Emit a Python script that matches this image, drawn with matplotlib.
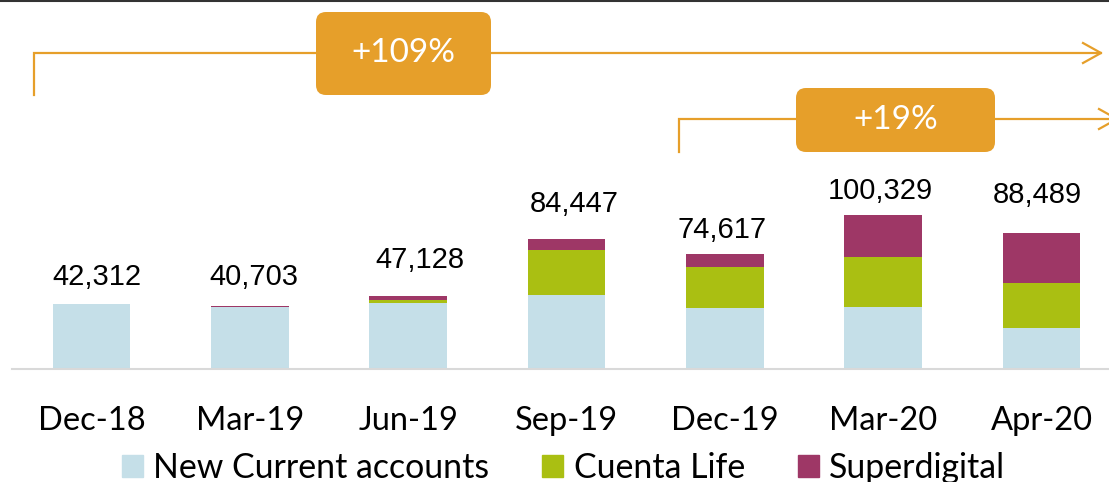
import matplotlib
matplotlib.use("Agg")
import matplotlib.pyplot as plt
import matplotlib.transforms as mtransforms
from matplotlib.patches import FancyBboxPatch, Patch
from matplotlib.lines import Line2D

# data
months = ["Dec-18", "Mar-19", "Jun-19", "Sep-19", "Dec-19", "Mar-20", "Apr-20"]
totals = [42312, 40703, 47128, 84447, 74617, 100329, 88489]
cuenta_life = [0, 0, 2400, 28800, 26800, 32500, 29750]
superdigital = [0, 500, 2150, 7350, 8300, 27800, 32350]
current_acc = [t - c - s for t, c, s in zip(totals, cuenta_life, superdigital)]

# label nudges in pixels (dx, dy above bar top)
label_dx = [6, 4, 12, 8, -3, -3, -4]
label_dy = [19, 21, 28, 27, 16, 16, 30]

W, H = 1109, 482
c_blue = "#C5DFE8"
c_green = "#AABF12"
c_pink = "#9E3766"
c_orange = "#E69F2A"

fig = plt.figure(figsize=(W / 100, H / 100), dpi=100)
ax = fig.add_axes([12.2 / W, (H - 368.5) / H, 1108.5 / W, 368.5 / H])

x = list(range(len(months)))
bw = 0.49
ax.bar(x, current_acc, bw, color=c_blue, label="New Current accounts")
ax.bar(x, cuenta_life, bw, bottom=current_acc, color=c_green, label="Cuenta Life")
bot2 = [a + b for a, b in zip(current_acc, cuenta_life)]
ax.bar(x, superdigital, bw, bottom=bot2, color=c_pink, label="Superdigital")

for i, t in enumerate(totals):
    ax.annotate(f"{t:,}", (x[i], t), xytext=(label_dx[i], label_dy[i]),
                textcoords="offset pixels", ha="center", va="baseline",
                fontsize=21, family="Liberation Sans", color="black")

ax.set_xlim(-0.5, 6.5)
ax.set_ylim(0, 368.5 * 653)
ax.set_xticks(x)
ax.set_xticklabels(months, fontsize=23.5, family="Lato")
ax.tick_params(axis="x", length=0, pad=27)
ax.set_yticks([])
for s in ["top", "left", "right"]:
    ax.spines[s].set_visible(False)
ax.spines["bottom"].set_color("#D9D9D9")
ax.spines["bottom"].set_linewidth(1.5)
ax.patch.set_visible(False)

# pixel coords, origin top-left
px = mtransforms.Affine2D().scale(1 / W, -1 / H).translate(0, 1) + fig.transFigure

def bracket(x0, y0, y1, x1):
    fig.add_artist(Line2D([x0, x0, x1], [y0, y1, y1], color=c_orange, lw=1.6,
                          transform=px, solid_joinstyle="miter"))
    fig.add_artist(Line2D([x1 - 18, x1, x1 - 18], [y1 - 10, y1, y1 + 10],
                          color=c_orange, lw=1.6, transform=px))

def tag(x0, x1, y0, y1, txt):
    box = FancyBboxPatch((x0, y0), x1 - x0, y1 - y0,
                         boxstyle="round,pad=0,rounding_size=10",
                         fc=c_orange, ec="none", transform=px)
    fig.add_artist(box)
    fig.text((x0 + x1) / 2 / W, 1 - (y0 + y1) / 2 / H, txt, ha="center",
             va="center", color="white", fontsize=24, family="Lato")

bracket(34, 95, 53, 1101)
tag(316, 491, 12, 95, "+109%")
bracket(679, 152, 119, 1117)
tag(796, 995, 88, 152, "+19%")

# thin dark border at the top
fig.add_artist(Line2D([0, 1], [1 - 1 / H, 1 - 1 / H], color="#333333", lw=1.5,
                      transform=fig.transFigure))

handles = [Patch(color=c_blue), Patch(color=c_green), Patch(color=c_pink)]
fig.legend(handles, ["New Current accounts", "Cuenta Life", "Superdigital"],
           loc="center", bbox_to_anchor=(563.5 / W, 1 - 468 / H), ncol=3,
           frameon=False, prop={"family": "Lato", "size": 24.4},
           handlelength=0.62, handleheight=0.62, handletextpad=0.31,
           columnspacing=1.56, borderpad=0)

fig.savefig("out.png", dpi=100)
